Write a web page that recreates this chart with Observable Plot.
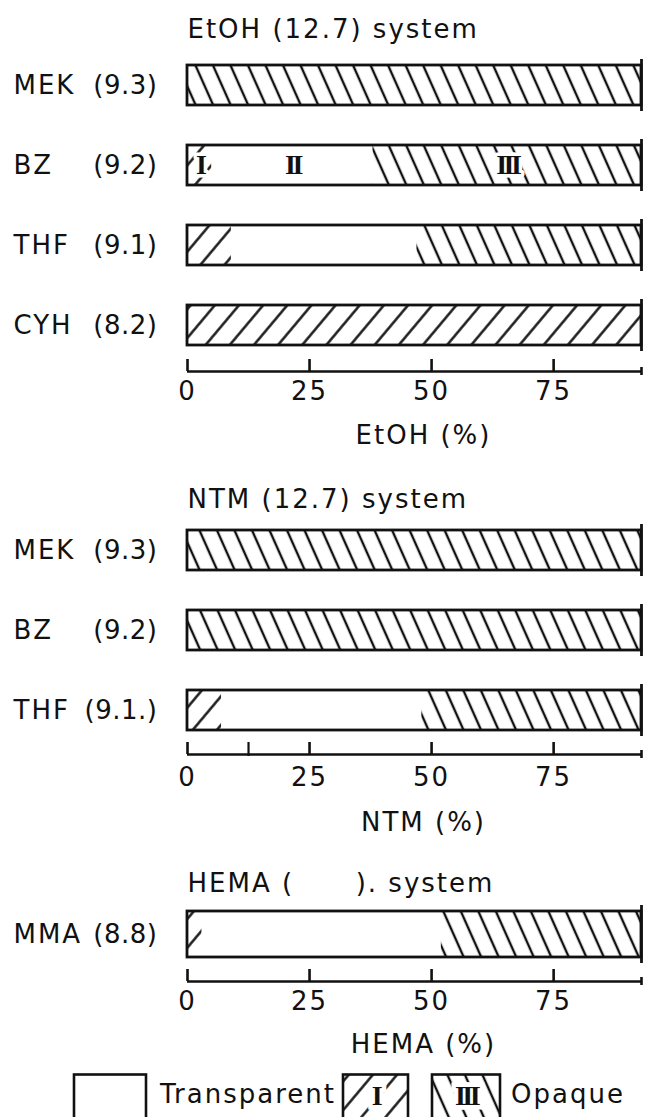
<!DOCTYPE html>
<html>
<head>
<meta charset="utf-8">
<script src="https://cdn.jsdelivr.net/npm/d3@7"></script>
<script src="https://cdn.jsdelivr.net/npm/@observablehq/plot@0.6"></script>
<style>
  html, body { margin: 0; padding: 0; background: #fff; }
  #fig { position: relative; width: 646px; height: 1117px; overflow: hidden; background: #fff; }
  #fig > svg { position: absolute; left: 0; }
  .numeral text { letter-spacing: -3.5px; }
  .delta text { letter-spacing: 0.5px; }
</style>
</head>
<body>
<!-- hatch fills shared by every panel and the legend -->
<svg width="0" height="0" style="position:absolute;left:0;top:0">
  <defs>
    <pattern id="hatch-I" patternUnits="userSpaceOnUse" width="18.5" height="18.5" patternTransform="rotate(40)">
      <line x1="9.25" y1="-1" x2="9.25" y2="19.5" stroke="#111" stroke-width="2.4"/>
    </pattern>
    <pattern id="hatch-III" patternUnits="userSpaceOnUse" width="16" height="16" patternTransform="rotate(-24)">
      <line x1="8" y1="-1" x2="8" y2="17" stroke="#111" stroke-width="2.4"/>
    </pattern>
  </defs>
</svg>
<div id="fig"></div>
<script>
// ---- data ---------------------------------------------------------------
const scaleMax = 93;                 // right end of the drawn (broken) scale
const tickValues = [0, 25, 50, 75];
const tickLabels = ["0", "25", "50", "75"];

// EtOH (12.7) system: composition where region I ends and region III starts
const etohSolvents = ["MEK", "BZ", "THF", "CYH"];
const etohDelta = ["(9.3)", "(9.2)", "(9.1)", "(8.2)"];
const etohEndI = [0, 5, 9, 93];
const etohStartIII = [0, 38, 47, 93];
const etohNumeralRow = "BZ";

// NTM (12.7) system
const ntmSolvents = ["MEK", "BZ", "THF"];
const ntmDelta = ["(9.3)", "(9.2)", "(9.1.)"];
const ntmEndI = [0, 0, 7];
const ntmStartIII = [0, 0, 48];
const ntmMinorTicks = [12.5];

// HEMA system
const hemaSolvents = ["MMA"];
const hemaDelta = ["(8.8)"];
const hemaEndI = [3];
const hemaStartIII = [52];

const numerals = ["I", "II", "III"];
const legendLabels = ["Transparent", "Opaque"];

// ---- helpers --------------------------------------------------------------
const INK = "#111";
const W = 646, ML = 187, MR = 5;
const FONT = "DejaVu Sans";
const NUMERAL_FONT = "Liberation Serif";
const baseStyle = {
  fontFamily: FONT, fontSize: "26px", letterSpacing: "2px",
  background: "transparent", overflow: "visible", color: INK
};
const fillFor = {I: "url(#hatch-I)", II: "white", III: "url(#hatch-III)"};

function segments(solvents, endI, startIII) {
  const out = [];
  solvents.forEach((s, i) => {
    const parts = [
      {phase: "I", x1: 0, x2: endI[i]},
      {phase: "II", x1: endI[i], x2: startIII[i]},
      {phase: "III", x1: startIII[i], x2: scaleMax}
    ];
    for (const p of parts) if (p.x2 > p.x1) out.push({solvent: s, ...p});
  });
  return out;
}

function barsPanel({title, solvents, delta, endI, startIII, top, height, marginTop, marginBottom, titleDy, padding, numeralRow}) {
  const rows = solvents.map((s, i) => ({solvent: s, delta: delta[i]}));
  const segs = segments(solvents, endI, startIII);
  const marks = [
    ...["I", "II", "III"].map(ph => Plot.barX(segs.filter(d => d.phase === ph), {
      y: "solvent", x1: "x1", x2: "x2", fill: fillFor[ph]
    })),
    Plot.barX(rows, {y: "solvent", x1: () => 0, x2: () => scaleMax, fill: "none", stroke: INK, strokeWidth: 2.8}),
    Plot.tickX(rows, {y: "solvent", x: () => scaleMax, stroke: INK, strokeWidth: 2.8, insetTop: -6, insetBottom: -6}),
    Plot.text(rows, {y: "solvent", text: "solvent", frameAnchor: "left", textAnchor: "start", dx: 13 - ML, fill: INK}),
    Plot.text(rows, {y: "solvent", text: "delta", frameAnchor: "left", textAnchor: "end", dx: 157 - ML, fill: INK, className: "delta"}),
    Plot.text([title], {frameAnchor: "top-left", textAnchor: "start", lineAnchor: "middle", dy: titleDy, fill: INK})
  ];
  if (numeralRow) {
    const i = solvents.indexOf(numeralRow);
    const bounds = [0, endI[i], startIII[i], scaleMax];
    const lab = numerals.map((t, k) => ({solvent: numeralRow, label: t, at: (bounds[k] + bounds[k + 1]) / 2}));
    marks.push(Plot.text(lab, {
      x: "at", y: "solvent", text: "label", fill: INK, stroke: "white", strokeWidth: 7,
      fontFamily: NUMERAL_FONT, fontWeight: "bold", fontSize: 28, className: "numeral"
    }));
  }
  const svg = Plot.plot({
    width: W, height, marginLeft: ML, marginRight: MR, marginTop, marginBottom,
    x: {domain: [0, scaleMax], axis: null},
    y: {domain: solvents, axis: null, paddingInner: padding, paddingOuter: 0},
    style: baseStyle,
    marks
  });
  return place(svg, top);
}

function axisPanel({label, top, tickDy, labelDy, minor = []}) {
  const svg = Plot.plot({
    width: W, height: 110, marginLeft: ML, marginRight: MR, marginTop: 12, marginBottom: 86,
    x: {domain: [0, scaleMax], axis: null},
    y: {domain: [0, 1], axis: null},
    style: baseStyle,
    marks: [
      Plot.ruleY([0], {x1: () => 0, x2: () => scaleMax, stroke: INK, strokeWidth: 2.6}),
      Plot.ruleX(tickValues, {x: d => d, y1: () => 0, y2: () => 1, stroke: INK, strokeWidth: 2.6}),
      Plot.ruleX(minor, {x: d => d, y1: () => 0, y2: () => 1, insetTop: 2, stroke: INK, strokeWidth: 2.2}),
      Plot.ruleX([scaleMax], {x: d => d, y1: () => 0, y2: () => 1, insetTop: 4, insetBottom: -8, stroke: INK, strokeWidth: 2.6}),
      Plot.text(tickValues, {x: d => d, y: () => 0, text: (d, i) => tickLabels[i], dy: tickDy, fill: INK}),
      Plot.text([label], {y: () => 0, frameAnchor: "middle", dx: 9, dy: labelDy, fill: INK})
    ]
  });
  return place(svg, top);
}

function place(svg, top) {
  svg.style.position = "absolute";
  svg.style.left = "0px";
  svg.style.top = top + "px";
  document.getElementById("fig").appendChild(svg);
  return svg;
}

// ---- EtOH panel -------------------------------------------------------------
barsPanel({
  title: "EtOH (12.7) system", solvents: etohSolvents, delta: etohDelta,
  endI: etohEndI, startIII: etohStartIII, top: 0, height: 360,
  marginTop: 64, marginBottom: 14, titleDy: -35, padding: 0.5, numeralRow: etohNumeralRow
});
axisPanel({label: "EtOH (%)", top: 347, tickDy: 20, labelDy: 64});

// ---- NTM panel --------------------------------------------------------------
barsPanel({
  title: "NTM (12.7) system", solvents: ntmSolvents, delta: ntmDelta,
  endI: ntmEndI, startIII: ntmStartIII, top: 456, height: 290,
  marginTop: 73, marginBottom: 16, titleDy: -30, padding: 0.5
});
axisPanel({label: "NTM (%)", top: 730, tickDy: 23, labelDy: 68, minor: ntmMinorTicks});

// ---- HEMA panel -------------------------------------------------------------
barsPanel({
  title: "HEMA (\u00a0\u00a0\u00a0\u00a0\u00a0\u00a0). system", solvents: hemaSolvents, delta: hemaDelta,
  endI: hemaEndI, startIII: hemaStartIII, top: 840, height: 140,
  marginTop: 71, marginBottom: 23, titleDy: -28, padding: 0
});
axisPanel({label: "HEMA (%)", top: 957, tickDy: 20, labelDy: 63});

// ---- legend -----------------------------------------------------------------
const legend = d3.create("svg")
  .attr("width", W).attr("height", 50)
  .style("position", "absolute").style("left", "0px").style("top", "1073px")
  .style("font-family", FONT).style("font-size", "26px").style("letter-spacing", "2px");
const boxes = [
  {x: 74, w: 72, fill: "white", numeral: null},
  {x: 343, w: 65, fill: fillFor.I, numeral: numerals[0]},
  {x: 432, w: 68, fill: fillFor.III, numeral: numerals[2]}
];
for (const b of boxes) {
  legend.append("rect").attr("x", b.x).attr("y", 1.5).attr("width", b.w).attr("height", 60)
    .attr("fill", b.fill).attr("stroke", INK).attr("stroke-width", 2.6);
  if (b.numeral) {
    legend.append("text").attr("x", b.x + b.w / 2).attr("y", 22).attr("dy", "0.35em")
      .attr("text-anchor", "middle").attr("font-family", NUMERAL_FONT).attr("font-weight", "bold")
      .attr("font-size", 28).style("letter-spacing", "-3.5px")
      .attr("fill", INK).attr("stroke", "white").attr("stroke-width", 9).attr("paint-order", "stroke")
      .text(b.numeral);
  }
}
legend.append("text").attr("x", 160).attr("y", 21).attr("dy", "0.35em").attr("fill", INK).text(legendLabels[0]);
legend.append("text").attr("x", 511).attr("y", 21).attr("dy", "0.35em").attr("fill", INK).text(legendLabels[1]);
document.getElementById("fig").appendChild(legend.node());
</script>
</body>
</html>
